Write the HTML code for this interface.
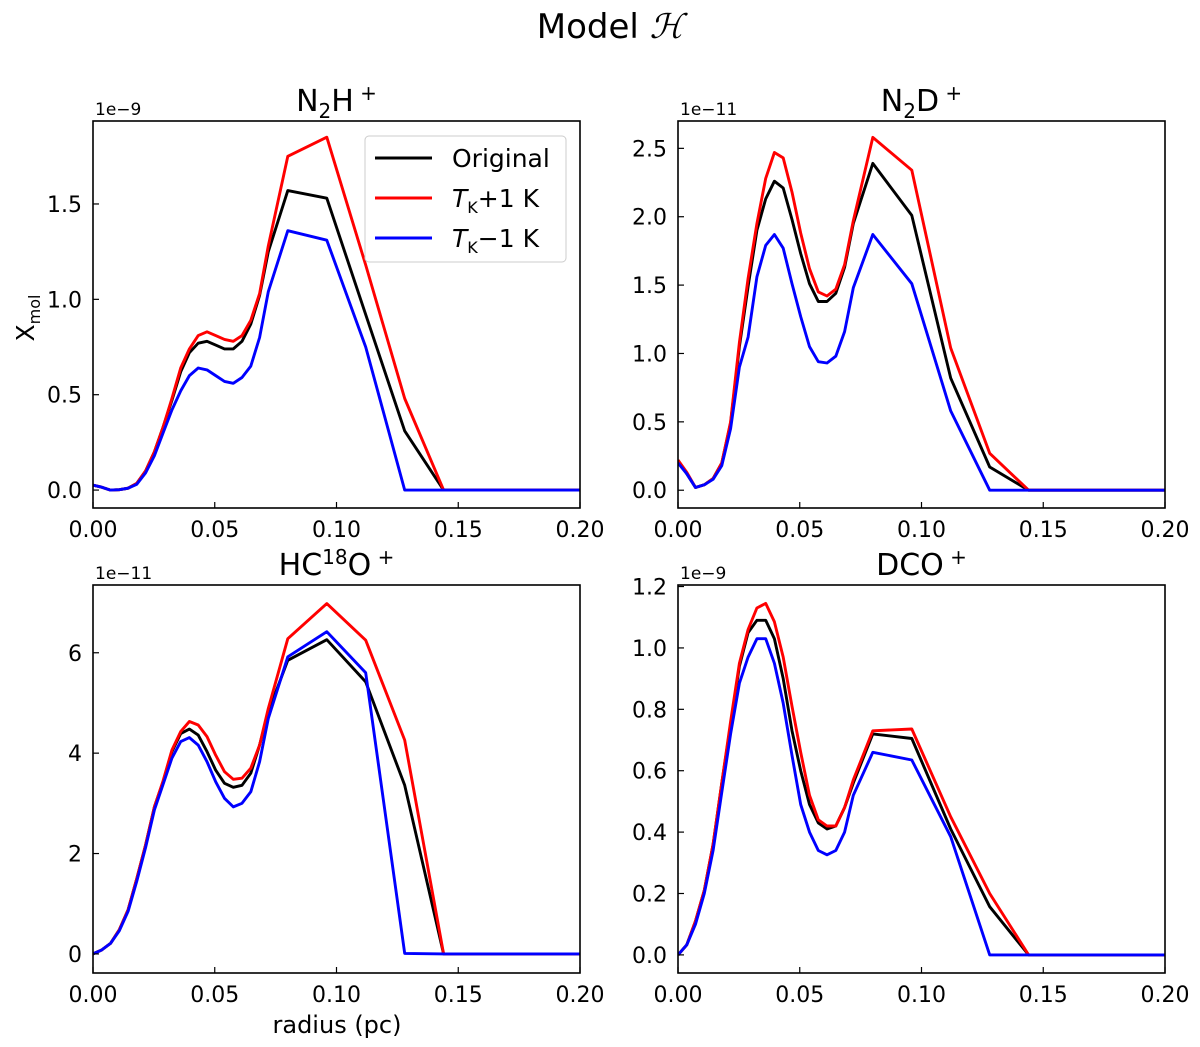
<!DOCTYPE html>
<html><head><meta charset="utf-8"><style>
body{margin:0;background:#fff;}
svg{display:block;font-family:"DejaVu Sans","Liberation Sans",sans-serif;}
</style></head><body>
<svg id="fig" width="1200" height="1047" viewBox="0 0 1200 1047" xmlns="http://www.w3.org/2000/svg">
<rect width="1200" height="1047" fill="#fff"/>
<text x="610" y="38" font-size="34" text-anchor="middle">Model <tspan font-family="Liberation Serif,serif" font-style="italic">ℋ</tspan></text>
<text transform="translate(34,318) rotate(-90)" font-size="25" text-anchor="middle">X<tspan font-size="16" dy="6">mol</tspan></text>
<text x="337" y="1033" font-size="24" text-anchor="middle">radius (pc)</text>
</svg>
<script>
const radius = [0,0.0036,0.0072,0.0108,0.0144,0.018,0.0216,0.0252,0.0288,0.0324,0.036,0.0396,0.0432,0.0468,0.0504,0.054,0.0576,0.0612,0.0648,0.0684,0.072,0.08,0.096,0.112,0.128,0.144,0.2];
const xTicks = [0,0.05,0.10,0.15,0.20];
const xTickLabels = ["0.00","0.05","0.10","0.15","0.20"];

const n2hOrig = [0.026,0.015,0.0,0.002,0.01,0.035,0.1,0.2,0.33,0.47,0.62,0.72,0.77,0.78,0.76,0.74,0.74,0.78,0.87,1.02,1.25,1.57,1.53,0.92,0.31,0,0];
const n2hPlus = [0.026,0.015,0.0,0.002,0.01,0.035,0.1,0.2,0.33,0.48,0.64,0.74,0.81,0.83,0.81,0.79,0.78,0.81,0.89,1.03,1.28,1.75,1.85,1.18,0.48,0,0];
const n2hMinus = [0.026,0.015,0.0,0.002,0.01,0.03,0.09,0.18,0.3,0.42,0.52,0.6,0.64,0.63,0.6,0.57,0.56,0.59,0.65,0.8,1.04,1.36,1.31,0.75,0,0,0];
const n2hTicks = [0.0,0.5,1.0,1.5];
const n2hTickLabels = ["0.0","0.5","1.0","1.5"];

const n2dOrig = [0.22,0.12,0.02,0.04,0.085,0.2,0.49,1.05,1.49,1.9,2.13,2.26,2.21,1.98,1.73,1.51,1.38,1.38,1.44,1.63,1.95,2.39,2.01,0.82,0.17,0,0];
const n2dPlus = [0.22,0.13,0.02,0.04,0.085,0.2,0.5,1.08,1.55,1.95,2.28,2.47,2.43,2.18,1.88,1.62,1.45,1.42,1.47,1.65,1.97,2.58,2.34,1.04,0.27,0,0];
const n2dMinus = [0.2,0.12,0.02,0.04,0.08,0.18,0.45,0.9,1.12,1.56,1.79,1.87,1.77,1.51,1.27,1.05,0.94,0.93,0.98,1.16,1.48,1.87,1.51,0.58,0,0,0];
const n2dTicks = [0.0,0.5,1.0,1.5,2.0,2.5];
const n2dTickLabels = ["0.0","0.5","1.0","1.5","2.0","2.5"];

const hcoOrig = [0,0.08,0.21,0.48,0.88,1.5,2.17,2.93,3.43,4.03,4.39,4.48,4.36,4.03,3.66,3.4,3.32,3.36,3.6,4.16,4.82,5.85,6.26,5.42,3.36,0,0];
const hcoPlus = [0,0.08,0.21,0.48,0.88,1.5,2.17,2.93,3.45,4.06,4.43,4.63,4.56,4.33,3.96,3.63,3.48,3.5,3.7,4.16,4.89,6.28,6.98,6.25,4.26,0,0];
const hcoMinus = [0,0.08,0.21,0.46,0.85,1.45,2.12,2.87,3.38,3.9,4.23,4.31,4.16,3.83,3.43,3.1,2.93,3.0,3.23,3.83,4.69,5.92,6.42,5.6,0.01,0,0];
const hcoTicks = [0,2,4,6];
const hcoTickLabels = ["0","2","4","6"];

const dcoOrig = [0,0.033,0.11,0.21,0.36,0.56,0.75,0.94,1.05,1.09,1.09,1.03,0.9,0.73,0.6,0.49,0.43,0.41,0.42,0.48,0.56,0.72,0.705,0.41,0.157,0,0];
const dcoPlus = [0,0.033,0.11,0.21,0.36,0.56,0.76,0.95,1.06,1.13,1.145,1.085,0.97,0.81,0.66,0.52,0.44,0.42,0.42,0.48,0.57,0.73,0.736,0.45,0.2,0,0];
const dcoMinus = [0,0.033,0.1,0.2,0.34,0.53,0.72,0.885,0.97,1.03,1.03,0.95,0.82,0.65,0.49,0.4,0.34,0.326,0.34,0.4,0.52,0.66,0.635,0.385,0,0,0];
const dcoTicks = [0.0,0.2,0.4,0.6,0.8,1.0,1.2];
const dcoTickLabels = ["0.0","0.2","0.4","0.6","0.8","1.0","1.2"];

const NS = "http://www.w3.org/2000/svg";
const fig = document.getElementById("fig");
function el(tag, attrs, parent){const e=document.createElementNS(NS,tag);for(const k in attrs)e.setAttribute(k,attrs[k]);(parent||fig).appendChild(e);return e;}

function panel(key, box, ymin, ymax, yt, ytl, series, titleHTML, offsetText){
  const g = el("g",{});
  
  
  const xs = v => box.x0 + (v-0)/(0.2) * (box.x1-box.x0);
  const ys = v => box.y1 - (v-ymin)/(ymax-ymin) * (box.y1-box.y0);
  const cp = el("clipPath",{id:"c"+key},g);
  el("rect",{x:box.x0,y:box.y0,width:box.x1-box.x0,height:box.y1-box.y0},cp);
  const colors=["#000","#f00","#00f"], names=["original","tk-plus-1k","tk-minus-1k"];
  series.forEach((s,i)=>{
    const p = el("polyline",{points:radius.map((r,j)=>xs(r).toFixed(1)+","+ys(s[j]).toFixed(1)).join(" "),fill:"none",stroke:colors[i],"stroke-width":2.9,"stroke-linejoin":"round","clip-path":"url(#c"+key+")"},g);
    
    
  });
  const fr = el("rect",{x:box.x0,y:box.y0,width:box.x1-box.x0,height:box.y1-box.y0,fill:"none",stroke:"#000","stroke-width":1.6},g);
  
  
  xTicks.forEach((t,i)=>{
    const x=xs(t);
    el("line",{x1:x,x2:x,y1:box.y1,y2:box.y1-6,stroke:"#000","stroke-width":1.2},g);
    const tx=el("text",{x:x,y:box.y1+29,"font-size":22,"text-anchor":"middle"},g);
    tx.textContent=xTickLabels[i];
    
    
  });
  yt.forEach((t,i)=>{
    const y=ys(t);
    el("line",{x1:box.x0,x2:box.x0+6,y1:y,y2:y,stroke:"#000","stroke-width":1.2},g);
    const tx=el("text",{x:box.x0-11,y:y+8,"font-size":22,"text-anchor":"end"},g);
    tx.textContent=ytl[i];
    
    
  });
  const off=el("text",{x:box.x0+2,y:box.y0-6,"font-size":17},g);
  off.textContent=offsetText;
  
  
  const ti=el("text",{x:(box.x0+box.x1)/2,y:box.y0-10,"font-size":30,"text-anchor":"middle"},g);
  ti.innerHTML=titleHTML;
  
  
}

panel("n2h",{x0:93,x1:580,y0:121,y1:508},-0.094,1.935,n2hTicks,n2hTickLabels,[n2hOrig,n2hPlus,n2hMinus],
 'N<tspan font-size="20" dy="7">2</tspan><tspan dy="-7">H</tspan><tspan font-size="20" dy="-11"> +</tspan>',"1e−9");
panel("n2d",{x0:678,x1:1165,y0:121,y1:508},-0.13,2.70,n2dTicks,n2dTickLabels,[n2dOrig,n2dPlus,n2dMinus],
 'N<tspan font-size="20" dy="7">2</tspan><tspan dy="-7">D</tspan><tspan font-size="20" dy="-11"> +</tspan>',"1e−11");
panel("hc18o",{x0:93,x1:580,y0:585,y1:973},-0.38,7.35,hcoTicks,hcoTickLabels,[hcoOrig,hcoPlus,hcoMinus],
 'HC<tspan font-size="20" dy="-11">18</tspan><tspan dy="11">O</tspan><tspan font-size="20" dy="-11"> +</tspan>',"1e−11");
panel("dco",{x0:678,x1:1165,y0:585,y1:973},-0.059,1.205,dcoTicks,dcoTickLabels,[dcoOrig,dcoPlus,dcoMinus],
 'DCO<tspan font-size="20" dy="-11"> +</tspan>',"1e−9");

// legend
const lg = el("g",{});


el("rect",{x:365,y:136,width:201,height:126,rx:4,fill:"#fff","fill-opacity":0.85,stroke:"#ccc","stroke-width":1},lg);
const labels=['Original','<tspan font-style="italic">T</tspan><tspan font-size="16" dy="6">K</tspan><tspan dy="-6">+1 K</tspan>','<tspan font-style="italic">T</tspan><tspan font-size="16" dy="6">K</tspan><tspan dy="-6">−1 K</tspan>'];
const lc=["#000","#f00","#00f"], ln=["legend-entry-original","legend-entry-tk-plus-1k","legend-entry-tk-minus-1k"];
labels.forEach((l,i)=>{
  const y=158+i*40;
  const e=el("g",{},lg);
  
  
  el("line",{x1:375,x2:432,y1:y,y2:y,stroke:lc[i],"stroke-width":2.9},e);
  const t=el("text",{x:452,y:y+9,"font-size":25},e);
  t.innerHTML=l;
});
</script>
</body></html>
